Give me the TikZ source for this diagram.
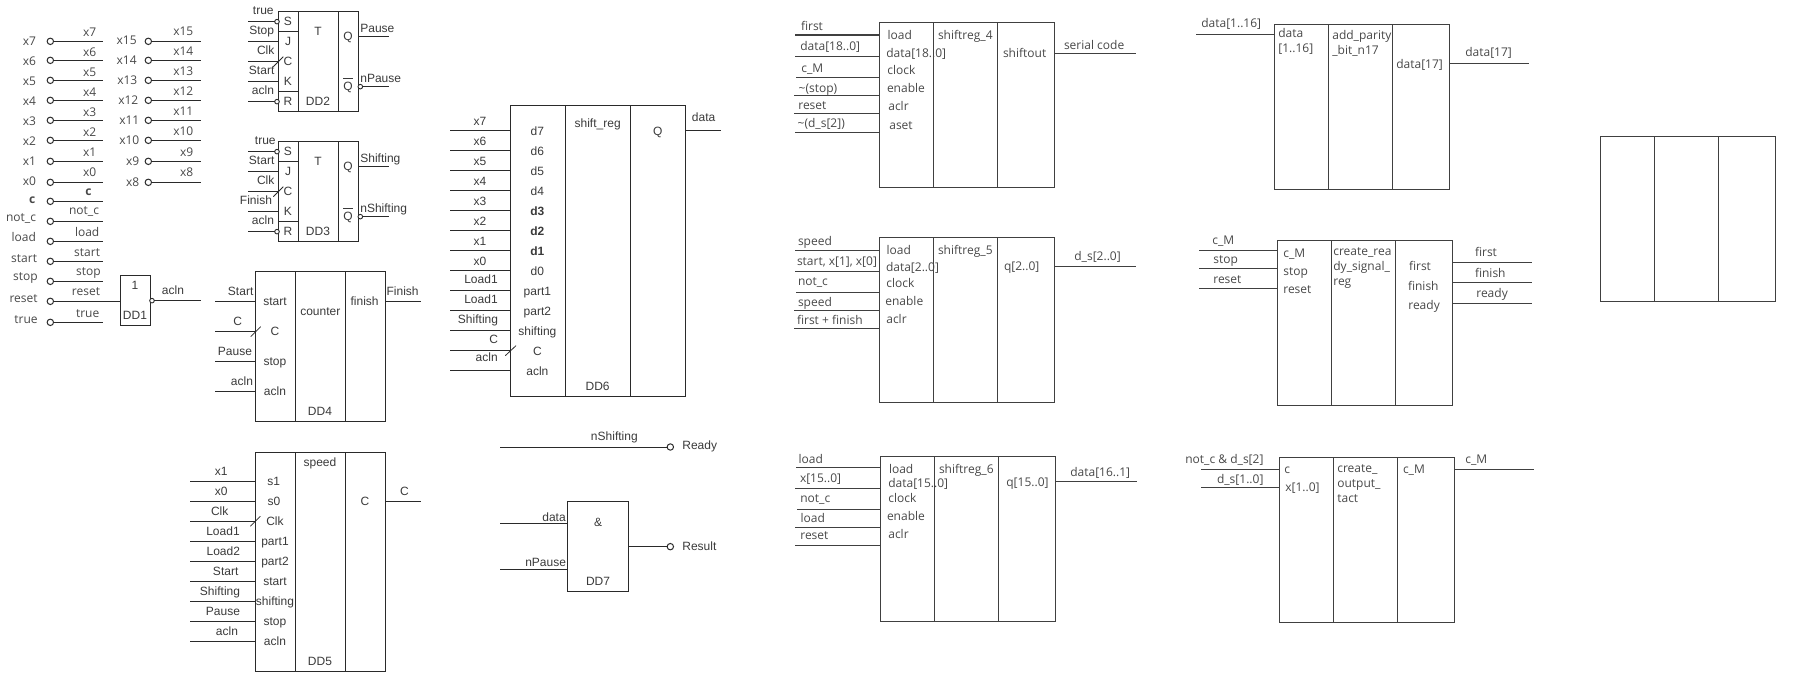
\documentclass[tikz,border=0pt]{standalone}
\usepackage{fontspec}
\setmainfont{Liberation Sans}
\newfontfamily\segoe{Open Sans}
\usetikzlibrary{calc}
\definecolor{lw}{HTML}{2A2A2A}
\definecolor{rw}{HTML}{404040}
\definecolor{lt}{HTML}{3A3A3A}
\definecolor{rt}{HTML}{484848}
\newcount\tc
\newcount\wc
\tikzset{
  z/.style 2 args={shift={(#1,#2)},x=0.33333pt,y=-0.33333pt},
  ltxt/.style={font=\fontsize{12}{12}\selectfont,text=lt,inner sep=0pt,outer sep=0pt,text height=9pt,text depth=1pt},
  rtxt/.style={font=\fontsize{12}{12}\segoe\selectfont,text=rt,inner sep=0pt,outer sep=0pt,text height=9pt,text depth=0pt},
  lbox/.style={draw=lw,line width=1pt},
  rbox/.style={draw=rw,line width=1.1pt},
  lwire/.style={draw=lw,line width=1pt},
  rwire/.style={draw=rw,line width=1.1pt},
  bnode/.style={rectangle,inner sep=0pt,outer sep=0pt},
  pinc/.style={circle,draw=lw,line width=1pt,minimum size=6.4pt,inner sep=0pt,outer sep=0pt},
  bub/.style={circle,draw=lw,line width=.9pt,fill=white,minimum size=4.6pt,inner sep=0pt,outer sep=0pt},
  tick/.style={draw=lw,line width=.8pt}
}
% text: style, anchor, x, y, content
\def\T#1#2#3#4#5{\global\advance\tc by 1 \node[#1,anchor=#2] (t\the\tc) at (#3,#4) {#5};}
% block with two column lines
\def\Blk#1#2#3#4#5#6#7#8{%
  \pgfmathsetmacro\bw{#4-#2}\pgfmathsetmacro\bh{#5-#3}%
  \node[bnode,#8,minimum width=\bw pt,minimum height=\bh pt,anchor=north west] (#1) at (#2,#3) {};%
  \draw[#8] (#6,0 |- #1.north) -- (#6,0 |- #1.south);%
  \draw[#8] (#7,0 |- #1.north) -- (#7,0 |- #1.south);}
% input wire from free end to block, output wire from block to free end
\def\In#1#2#3#4{\global\advance\wc by 1 \coordinate (w\the\wc) at (#3,#4); \draw[#1] (w\the\wc) -- (w\the\wc -| #2.west);}
\def\Out#1#2#3#4{\global\advance\wc by 1 \coordinate (w\the\wc) at (#3,#4); \draw[#1] (w\the\wc -| #2.east) -- (w\the\wc);}
% pin: circle at (x,y), wire to right end
\def\Pin#1#2#3{\global\advance\wc by 1 \node[pinc] (p\the\wc) at (#1,#3) {}; \coordinate (e\the\wc) at (#2,#3); \draw[lwire] (p\the\wc.east) -- (e\the\wc);}
% flip-flop
\def\FF#1#2#3#4#5#6#7#8{%
\begin{scope}[yshift=-#2pt]
\Blk{#1}{278.3}{11.3}{358.7}{111.7}{298.3}{338.3}{lbox}
\begin{scope}[z={0}{0}]
\draw[lbox] (#1.west |- 895,95) -- (895,95);
\draw[lbox] (#1.west |- 895,275) -- (895,275);
\foreach \y/\s in {65/S,125/J,185/C,245/K,305/R} {\T{ltxt}{center}{864}{\y}{\s}}
\T{ltxt}{center}{954}{95}{T}
\T{ltxt}{center}{954}{305}{#3}
\T{ltxt}{center}{1044}{110}{Q}
\T{ltxt}{center}{1044}{260}{$\overline{\rule{0pt}{11pt}\mbox{Q}}$}
\In{lwire}{#1}{745}{125}
\In{lwire}{#1}{745}{185}
\In{lwire}{#1}{745}{245}
\node[bub] (#1bs) at (831,65) {};
\node[bub] (#1br) at (831,305) {};
\coordinate (#1as) at (745,65);
\coordinate (#1ar) at (745,305);
\draw[lwire] (#1as) -- (#1bs.west);
\draw[lwire] (#1ar) -- (#1br.west);
\draw[tick] (820,200) -- (850,170);
\Out{lwire}{#1}{1166}{110}
\node[bub] (#1bq) at (1081,260) {};
\coordinate (#1oq) at (1166,260);
\draw[lwire] (#1bq.east) -- (#1oq);
\T{ltxt}{center}{#4}{#5}{#6}
\T{ltxt}{west}{1081}{#7}{#8}
\end{scope}
\end{scope}}
\begin{document}
\begin{tikzpicture}[x=1pt,y=-1pt]
\useasboundingbox (0,0) rectangle (1806,692);
% ---- blocks ----
\Blk{DD1}{120.3}{275.7}{150.3}{325.7}{120.3}{120.3}{lbox}
\Blk{DD4}{255.3}{271.3}{385.7}{421.7}{295.3}{345.3}{lbox}
\Blk{DD5}{255.3}{452.7}{385.7}{671.3}{295.3}{345.3}{lbox}
\Blk{DD6}{510.3}{105.7}{685.7}{396}{565.3}{630.3}{lbox}
\Blk{DD7}{567.7}{501.3}{628}{591.7}{567.7}{567.7}{lbox}
\Blk{SR4}{879.3}{22.3}{1054.7}{187.3}{933.3}{997.3}{rbox}
\Blk{SR5}{879.3}{237.3}{1054.7}{402.3}{933.3}{997.3}{rbox}
\Blk{SR6}{880.3}{456.3}{1055.7}{621.3}{934.3}{998.3}{rbox}
\Blk{APB}{1274.3}{24.3}{1449.7}{189.3}{1328.3}{1392.3}{rbox}
\Blk{CRS}{1277.3}{240.3}{1452.7}{405.3}{1331.3}{1395.3}{rbox}
\Blk{COT}{1279.3}{457.3}{1454.7}{622.3}{1333.3}{1397.3}{rbox}
\Blk{EMP}{1600.3}{136.3}{1775.7}{301.3}{1654.3}{1718.3}{rbox}
% ---- pins ----
\begin{scope}[z={0}{0}]
\foreach \s/\ly/\lr/\y/\ry/\rr in {x7/122/108/124/95/289,x6/182/108/181/155/289,x5/242/108/241/215/289,x4/302/108/301/275/289,x3/362/108/361/335/289,x2/422/108/421/395/289,x1/482/108/484/455/289,x0/542/108/547/515/289,\textbf{c}/597/106/604/572/275,not\_c/650/108/664/631/297,load/711/108/724/696/298,start/775/111/784/757/300,stop/829/113/844/814/302,true/957/113/967/938/298} {
  \Pin{151}{308}{\y}
  \T{rtxt}{east}{\lr}{\ly}{\s}
  \T{rtxt}{east}{\rr}{\ry}{\s}
}
\foreach \s/\ly/\lr/\y/\ry/\rr in {x15/120/410/124/93/580,x14/180/410/181/153/580,x13/240/412/241/213/580,x12/300/415/301/273/580,x11/360/418/361/333/580,x10/420/418/421/393/580,x9/483/418/484/457/580,x8/546/418/547/517/580} {
  \Pin{445}{602}{\y}
  \T{rtxt}{east}{\lr}{\ly}{\s}
  \T{rtxt}{east}{\rr}{\ry}{\s}
}
% reset pin into DD1
\node[pinc] (preset) at (151,904) {};
\draw[lwire] (preset.east) -- (preset -| DD1.west);
\T{rtxt}{east}{113}{895}{reset}
\T{rtxt}{east}{300}{874}{reset}
% DD1
\T{ltxt}{center}{405}{857}{1}
\T{ltxt}{center}{405}{947}{DD1}
\node[bub] (DD1b) at (456,902) {};
\coordinate (DD1o) at (603,902);
\draw[lwire] (DD1b.east) -- (DD1o);
\T{ltxt}{center}{519}{872}{acln}
% DD4 top part
\In{lwire}{DD4}{646}{905}
\In{lwire}{DD4}{646}{995}
\Out{lwire}{DD4}{1262}{905}
\T{ltxt}{center}{722}{875}{Start}
\T{ltxt}{center}{713}{965}{C}
\T{ltxt}{center}{825}{905}{start}
\T{ltxt}{center}{825}{995}{C}
\T{ltxt}{center}{961}{935}{counter}
\T{ltxt}{center}{1094}{905}{finish}
\T{ltxt}{center}{1208}{875}{Finish}
\draw[tick] (752,1010) -- (782,980);
\end{scope}
% flip-flops
\FF{DD2}{0}{DD2}{789}{272}{acln}{87}{Pause}
\begin{scope}[z={0}{0}]
\T{ltxt}{center}{790}{33}{true}
\T{ltxt}{center}{785}{92}{Stop}
\T{ltxt}{center}{797}{152}{Clk}
\T{ltxt}{center}{785}{212}{Start}
\T{ltxt}{west}{1081}{237}{nPause}
\end{scope}
\FF{DD3}{130}{DD3}{789}{272}{acln}{87}{Shifting}
\begin{scope}[z={0}{130}]
\T{ltxt}{center}{796}{33}{true}
\T{ltxt}{center}{785}{92}{Start}
\T{ltxt}{center}{797}{152}{Clk}
\T{ltxt}{center}{768}{212}{Finish}
\T{ltxt}{west}{1081}{237}{nShifting}
\end{scope}
% DD4 lower, DD5
\begin{scope}[z={150}{346}]
\In{lwire}{DD4}{196}{46}
\In{lwire}{DD4}{196}{136}
\T{ltxt}{center}{255}{17}{Pause}
\T{ltxt}{center}{276}{107}{acln}
\T{ltxt}{center}{375}{47}{stop}
\T{ltxt}{center}{375}{137}{acln}
\T{ltxt}{center}{510}{197}{DD4}
\foreach \y/\a/\ax/\b/\bx in {407/x1/214/s1/371,467/x0/214/s0/372,527/Clk/209/Clk/375,587/Load1/219/part1/375,647/Load2/220/part2/375,707/Start/227/start/375,767/Shifting/210/shifting/375,827/Pause/219/stop/375,887/acln/231/acln/375} {
  \In{lwire}{DD5}{121}{\y}
  \T{ltxt}{center}{\ax}{\y-30}{\a}
  \T{ltxt}{center}{\bx}{\y}{\b}
}
\draw[tick] (301,541) -- (331,511);
\T{ltxt}{center}{510}{350}{speed}
\T{ltxt}{center}{510}{947}{DD5}
\T{ltxt}{center}{645}{467}{C}
\Out{lwire}{DD5}{812}{467}
\T{ltxt}{center}{763}{437}{C}
\end{scope}
% DD6
\begin{scope}[z={430}{90}]
\foreach \y/\a/\ax/\ay/\b in {122/x7/150/96/d7,182/x6/150/156/d6,242/x5/150/216/d5,302/x4/150/276/d4,362/x3/150/336/\textbf{d3},422/x2/150/396/\textbf{d2},482/x1/150/456/\textbf{d1},542/x0/150/516/d0,602/Load1/153/570/part1,662/Load1/153/630/part2,722/Shifting/144/690/shifting,782/C/191/748/C,842/acln/170/804/acln} {
  \In{lwire}{DD6}{60}{\y}
  \T{ltxt}{center}{\ax}{\ay}{\a}
  \T{ltxt}{center}{322}{\y+3}{\b}
}
\draw[tick] (226,797) -- (258,767);
\T{ltxt}{center}{503}{100}{shift\_reg}
\T{ltxt}{center}{503}{890}{DD6}
\T{ltxt}{center}{683}{125}{Q}
\Out{lwire}{DD6}{872}{122}
\T{ltxt}{center}{821}{83}{data}
\end{scope}
% Ready, DD7
\begin{scope}[z={490}{420}]
\coordinate (rs) at (31,81);
\node[pinc] (pready) at (541,81) {};
\draw[lwire] (rs) -- (pready.west);
\T{ltxt}{center}{373}{50}{nShifting}
\T{ltxt}{west}{577}{75}{Ready}
\In{lwire}{DD7}{31}{311}
\In{lwire}{DD7}{31}{447}
\node[pinc] (presult) at (541,380) {};
\draw[lwire] (presult -| DD7.east) -- (presult.west);
\T{ltxt}{center}{192}{291}{data}
\T{ltxt}{center}{167}{426}{nPause}
\T{ltxt}{center}{324}{306}{\&}
\T{ltxt}{center}{324}{485}{DD7}
\T{ltxt}{west}{577}{380}{Result}
\end{scope}
% shiftreg_4
\begin{scope}[z={780}{0}]
\foreach \x/\y in {45/105,45/169,48/232,42/286,42/340,45/397} {\In{rwire}{SR4}{\x}{\y}}
\foreach \x/\y/\s in {63/78/first,61/139/data[18..0],64/205/c\_M,56/263/\textasciitilde(stop),55/316/reset,53/370/\textasciitilde(d\_s[2]),323/105/load,319/160/data[18..0],322/210/clock,321/264/enable,325/318/aclr,328/375/aset,474/105/shiftreg\_4,669/159/shiftout,852/135/serial code} {\T{rtxt}{west}{\x}{\y}{\s}}
\Out{rwire}{SR4}{1068}{160}
\end{scope}
% shiftreg_5
\begin{scope}[z={780}{220}]
\foreach \x/\y in {45/91,45/154,48/217,42/271,42/325} {\In{rwire}{SR5}{\x}{\y}}
\foreach \x/\y/\s in {54/63/speed,{51/124/start, x[1], x[0]},54/184/not\_c,54/246/speed,51/300/first + finish,320/90/load,318/142/data[2..0],319/189/clock,316/243/enable,319/297/aclr,474/90/shiftreg\_5,672/139/q[2..0],883/109/d\_s[2..0]} {\T{rtxt}{west}{\x}{\y}{\s}}
\Out{rwire}{SR5}{1068}{139}
\end{scope}
% shiftreg_6
\begin{scope}[z={780}{440}]
\foreach \x/\y in {48/82,45/145,51/208,45/262,45/316} {\In{rwire}{SR6}{\x}{\y}}
\foreach \x/\y/\s in {56/57/load,60/115/x[15..0],61/175/not\_c,62/234/load,61/286/reset,327/87/load,325/130/data[15..0],325/174/clock,321/228/enable,325/282/aclr,477/87/shiftreg\_6,679/127/q[15..0],871/97/data[16..1]} {\T{rtxt}{west}{\x}{\y}{\s}}
\Out{rwire}{SR6}{1071}{124}
\end{scope}
% add_parity
\begin{scope}[z={1180}{0}]
\In{rwire}{APB}{48}{103}
\foreach \x/\y/\s in {64/70/data[1..16],295/100/data,295/145/[1..16],457/105/add\_parity,457/150/\_bit\_n17,649/192/data[17],856/157/data[17]} {\T{rtxt}{west}{\x}{\y}{\s}}
\Out{rwire}{APB}{1047}{190}
\end{scope}
% create_ready
\begin{scope}[z={1180}{220}]
\foreach \y in {91,145,205} {\In{rwire}{CRS}{57}{\y}}
\foreach \y in {127,187,250} {\Out{rwire}{CRS}{1056}{\y}}
\foreach \x/\y/\s in {97/61/c\_M,100/118/stop,100/178/reset,310/100/c\_M,310/154/stop,310/208/reset,460/94/create\_rea,460/139/dy\_signal\_,460/184/reg,687/138/first,684/198/finish,685/256/ready,885/96/first,885/159/finish,889/220/ready} {\T{rtxt}{west}{\x}{\y}{\s}}
\end{scope}
% create_output
\begin{scope}[z={1180}{440}]
\In{rwire}{COT}{63}{88}
\In{rwire}{COT}{63}{142}
\foreach \x/\y/\s in {16/58/not\_c \& d\_s[2],111/118/d\_s[1..0],313/88/c,316/142/x[1..0],472/85/create\_,472/130/output\_,472/175/tact,669/88/c\_M,856/58/c\_M} {\T{rtxt}{west}{\x}{\y}{\s}}
\Out{rwire}{COT}{1062}{88}
\end{scope}
\end{tikzpicture}
\end{document}
